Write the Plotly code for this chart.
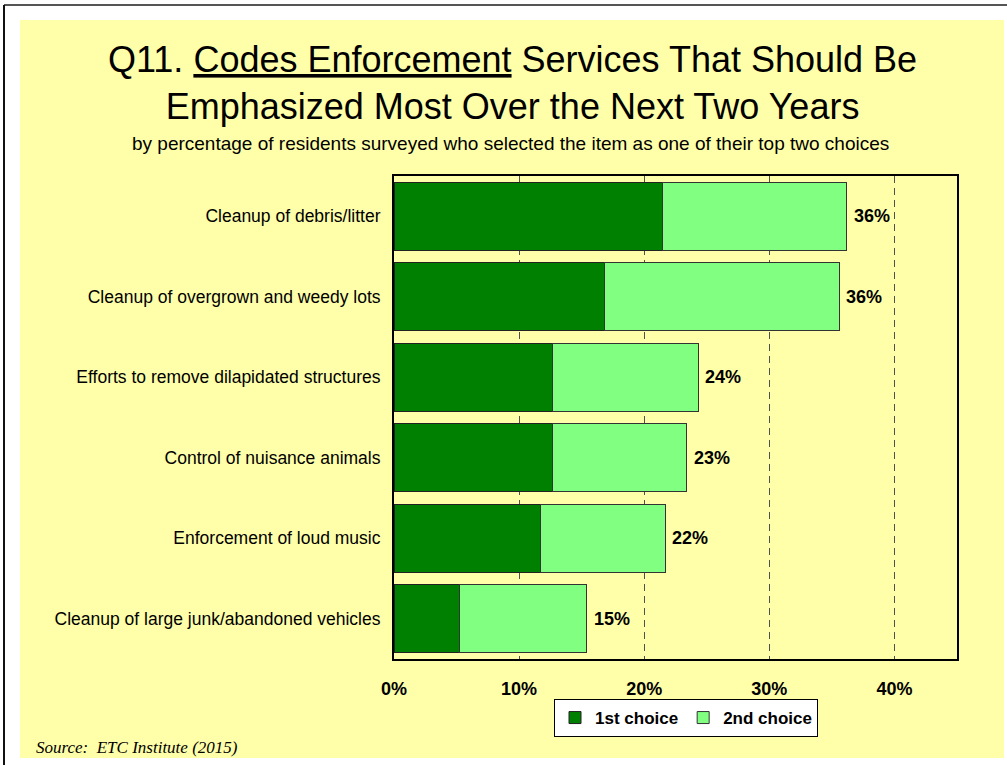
import plotly.graph_objects as go

# Survey items, top to bottom
categories = [
    "Cleanup of debris/litter",
    "Cleanup of overgrown and weedy lots",
    "Efforts to remove dilapidated structures",
    "Control of nuisance animals",
    "Enforcement of loud music",
    "Cleanup of large junk/abandoned vehicles",
]
first_choice = [21.5, 16.8, 12.7, 12.7, 11.7, 5.2]
second_choice = [14.7, 18.8, 11.6, 10.7, 10.0, 10.2]
x_ticks = [0, 10, 20, 30, 40]
x_tick_labels = [f"{v}%" for v in x_ticks]

totals = [a + b for a, b in zip(first_choice, second_choice)]

FONT = "Liberation Sans"
W, H = 1007, 765
ML, MR, MT, MB = 394, 50, 176, 106
PW, PH = W - ML - MR, H - MT - MB


def px_x(p):
    return (p - ML) / PW


def px_y(p):
    return (H - MB - p) / PH


fig = go.Figure()
fig.add_trace(go.Bar(
    y=categories, x=first_choice, orientation="h", name="1st choice",
    marker=dict(color="#008000", line=dict(color="#222222", width=1)),
))
fig.add_trace(go.Bar(
    y=categories, x=second_choice, orientation="h", name="2nd choice",
    marker=dict(color="#80FF80", line=dict(color="#333333", width=1)),
))

annotations = []
for cat, tot in zip(categories, totals):
    annotations.append(dict(
        x=tot, y=cat, xref="x", yref="y", text=f"{round(tot)}%",
        showarrow=False, xanchor="left", yanchor="middle", xshift=5,
        font=dict(family=FONT, size=18, color="black", weight="bold"),
    ))

annotations += [
    dict(x=px_x(512), y=px_y(83), xref="paper", yref="paper",
         text="Q11. <u>Codes Enforcement</u> Services That Should Be<br>"
              "Emphasized Most Over the Next Two Years",
         showarrow=False, xanchor="center", yanchor="middle",
         font=dict(family=FONT, size=36, color="black")),
    dict(x=px_x(510), y=px_y(143), xref="paper", yref="paper",
         text="by percentage of residents surveyed who selected the item as one of their top two choices",
         showarrow=False, xanchor="center", yanchor="middle",
         font=dict(family=FONT, size=19, color="black")),
    dict(x=px_x(34), y=px_y(747), xref="paper", yref="paper",
         text="Source:  ETC Institute (2015)",
         showarrow=False, xanchor="left", yanchor="middle",
         font=dict(family="Liberation Serif", size=17, color="black", style="italic")),
]

shapes = [
    # yellow page panel
    dict(type="rect", xref="paper", yref="paper", layer="below",
         x0=px_x(20), x1=px_x(1004), y0=px_y(758), y1=px_y(20),
         fillcolor="#FFFFAA", line=dict(width=0)),
    # outer frame edges
    dict(type="line", xref="paper", yref="paper", layer="below",
         x0=px_x(4), x1=px_x(1007), y0=px_y(5), y1=px_y(5),
         line=dict(color="#555555", width=2)),
    dict(type="line", xref="paper", yref="paper", layer="below",
         x0=px_x(4), x1=px_x(4), y0=px_y(5), y1=px_y(765),
         line=dict(color="#111111", width=2)),
]

fig.update_layout(
    width=W, height=H,
    margin=dict(l=ML, r=MR, t=MT, b=MB),
    paper_bgcolor="white", plot_bgcolor="white",
    barmode="stack", bargap=0.155,
    showlegend=True,
    legend=dict(
        orientation="h", x=px_x(686), y=px_y(699), xanchor="center", yanchor="top",
        bgcolor="white", bordercolor="black", borderwidth=1,
        font=dict(family=FONT, size=17, color="black", weight="bold"),
        itemwidth=30, traceorder="normal", tracegroupgap=0,
    ),
    annotations=annotations,
    shapes=shapes,
    font=dict(family=FONT, color="black"),
)

fig.update_xaxes(
    range=[0, 45], tickmode="array", tickvals=x_ticks, ticktext=x_tick_labels,
    showgrid=True, gridcolor="#505050", griddash="7px,5px", gridwidth=1,
    zeroline=False, showline=True, mirror=True, linecolor="black", linewidth=2,
    ticks="", ticklabelstandoff=12,
    tickfont=dict(family=FONT, size=18, color="black", weight="bold"),
)
fig.update_yaxes(
    categoryorder="array", categoryarray=categories, autorange="reversed",
    showgrid=False, zeroline=False, showline=True, mirror=True,
    linecolor="black", linewidth=2, ticks="", ticklabelstandoff=8,
    tickfont=dict(family=FONT, size=17.5, color="black"),
)

fig.write_html("out.html")
